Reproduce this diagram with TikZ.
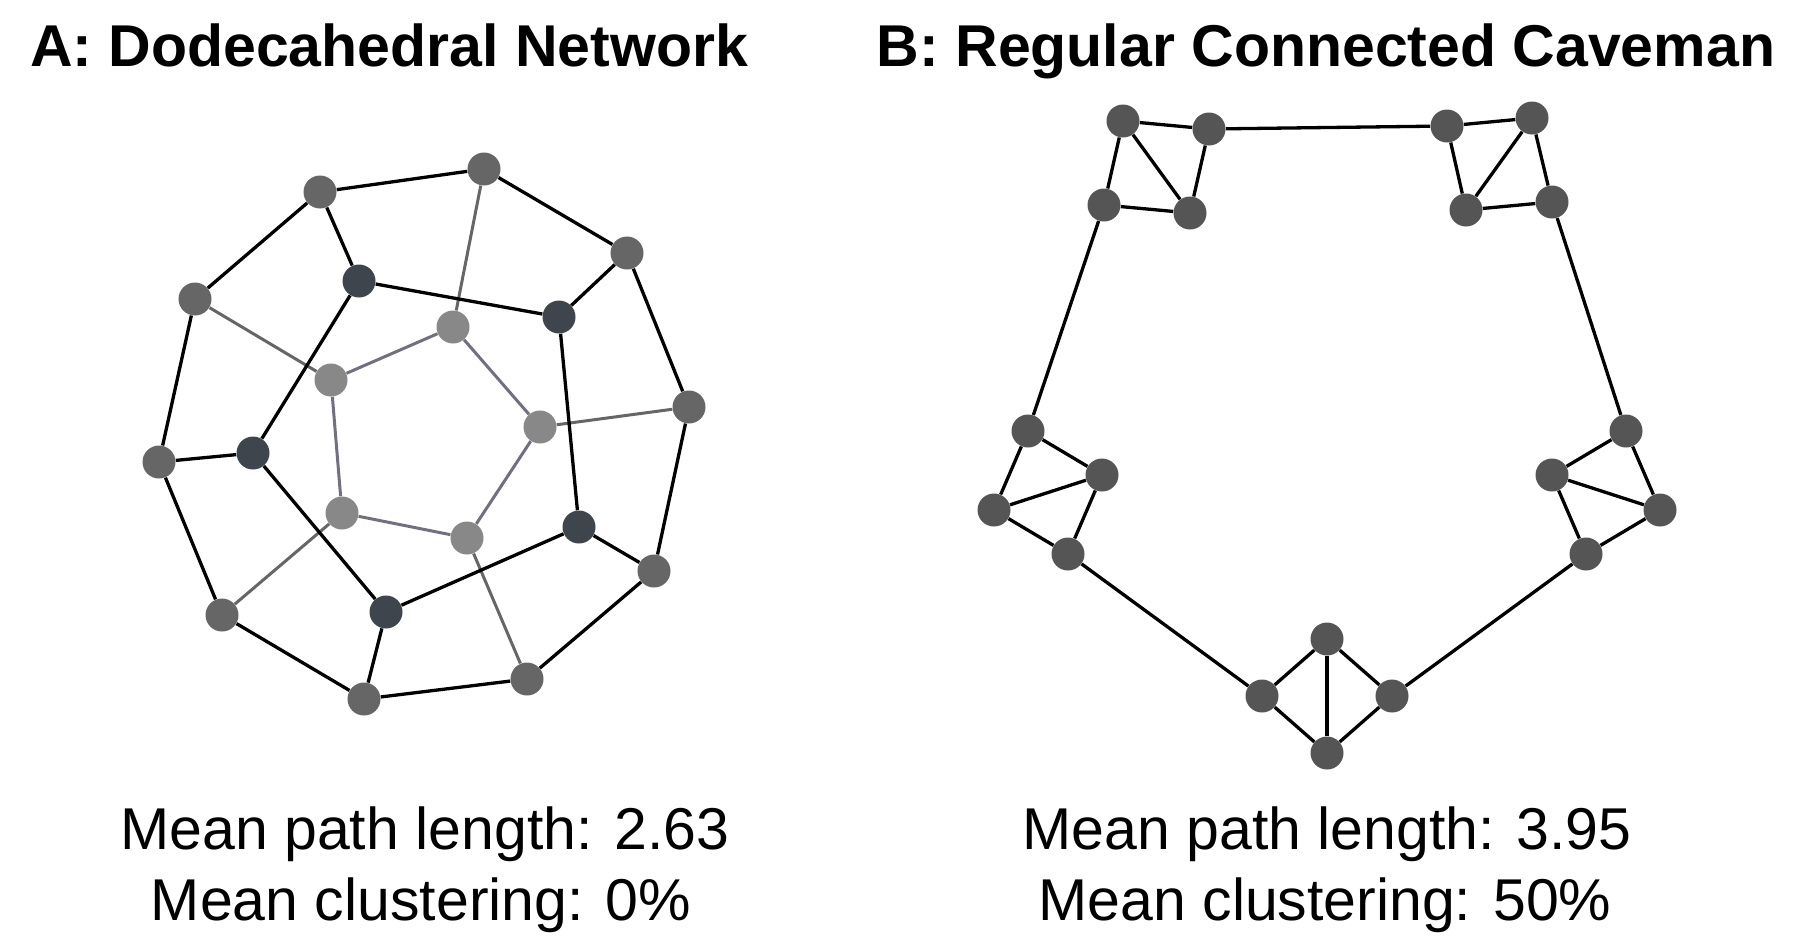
\documentclass[tikz,border=0pt]{standalone}
\usepackage{fontspec}
\setmainfont{Liberation Sans}
\definecolor{outergray}{HTML}{666666}
\definecolor{darknode}{HTML}{3E454C}
\definecolor{innergray}{HTML}{888888}
\definecolor{cavenode}{HTML}{555555}
\definecolor{spokegray}{HTML}{666666}
\definecolor{pentgray}{HTML}{70707E}
\tikzset{
  vtx/.style={circle,inner sep=0pt,minimum size=16.5pt},
  outerv/.style={vtx,fill=outergray},
  darkv/.style={vtx,fill=darknode},
  innerv/.style={vtx,fill=innergray},
  cavev/.style={vtx,fill=cavenode},
  blackedge/.style={draw=black,line width=1.65pt},
  spokeedge/.style={draw=spokegray,line width=1.5pt},
  pentedge/.style={draw=pentgray,line width=1.5pt},
  titletext/.style={anchor=base,inner sep=0pt,font=\fontsize{29.5}{35}\selectfont\bfseries},
  stattext/.style={anchor=base,inner sep=0pt,font=\fontsize{29.5}{35}\selectfont},
}
\begin{document}
\begin{tikzpicture}[x=0.5pt,y=-0.5pt]
\useasboundingbox (0,0) rectangle (1803,944);
% ---------- Panel A ----------
\node[outerv] (o1) at (484,169) {};
\node[outerv] (o2) at (627,253) {};
\node[outerv] (o3) at (689,407) {};
\node[outerv] (o4) at (654,571) {};
\node[outerv] (o5) at (527,679) {};
\node[outerv] (o6) at (364,699) {};
\node[outerv] (o7) at (222,615) {};
\node[outerv] (o8) at (159,462) {};
\node[outerv] (o9) at (195,299) {};
\node[outerv] (o10) at (320,192) {};
\node[darkv] (d1) at (359,281) {};
\node[darkv] (d2) at (559,317) {};
\node[darkv] (d3) at (579,527) {};
\node[darkv] (d4) at (386,612) {};
\node[darkv] (d5) at (253,453) {};
\node[innerv] (i1) at (453,327) {};
\node[innerv] (i2) at (540,427) {};
\node[innerv] (i3) at (467,538) {};
\node[innerv] (i4) at (342,513) {};
\node[innerv] (i5) at (331,380) {};
% inner spokes
\draw[spokeedge] (i1) -- (o1);
\draw[spokeedge] (i2) -- (o3);
\draw[spokeedge] (i3) -- (o5);
\draw[spokeedge] (i4) -- (o7);
\draw[spokeedge] (i5) -- (o9);
% inner pentagon
\draw[pentedge] (i1) -- (i2);
\draw[pentedge] (i2) -- (i3);
\draw[pentedge] (i3) -- (i4);
\draw[pentedge] (i4) -- (i5);
\draw[pentedge] (i5) -- (i1);
% outer ring
\draw[blackedge] (o1) -- (o2);
\draw[blackedge] (o2) -- (o3);
\draw[blackedge] (o3) -- (o4);
\draw[blackedge] (o4) -- (o5);
\draw[blackedge] (o5) -- (o6);
\draw[blackedge] (o6) -- (o7);
\draw[blackedge] (o7) -- (o8);
\draw[blackedge] (o8) -- (o9);
\draw[blackedge] (o9) -- (o10);
\draw[blackedge] (o10) -- (o1);
% dark pentagon
\draw[blackedge] (d1) -- (d2);
\draw[blackedge] (d2) -- (d3);
\draw[blackedge] (d3) -- (d4);
\draw[blackedge] (d4) -- (d5);
\draw[blackedge] (d5) -- (d1);
% dark spokes
\draw[blackedge] (d1) -- (o10);
\draw[blackedge] (d2) -- (o2);
\draw[blackedge] (d3) -- (o4);
\draw[blackedge] (d4) -- (o6);
\draw[blackedge] (d5) -- (o8);
% ---------- Panel B ----------
\node[cavev] (a) at (1123,121) {};
\node[cavev] (b) at (1209,129) {};
\node[cavev] (c) at (1104,205) {};
\node[cavev] (d) at (1190,213) {};
\node[cavev] (e) at (1447,126) {};
\node[cavev] (f) at (1532,118) {};
\node[cavev] (g) at (1466,210) {};
\node[cavev] (h) at (1552,202) {};
\node[cavev] (i) at (1028,431) {};
\node[cavev] (j) at (1102,475) {};
\node[cavev] (k) at (994,510) {};
\node[cavev] (l) at (1068,554) {};
\node[cavev] (m) at (1626,431) {};
\node[cavev] (n) at (1552,475) {};
\node[cavev] (o) at (1660,510) {};
\node[cavev] (p) at (1586,554) {};
\node[cavev] (q) at (1327,639) {};
\node[cavev] (r) at (1262,696) {};
\node[cavev] (s) at (1392,696) {};
\node[cavev] (t) at (1327,753) {};
\foreach \u/\v in {a/b,a/c,a/d,b/d,c/d,
                   e/f,e/g,f/g,f/h,g/h,
                   i/j,i/k,j/k,j/l,k/l,
                   m/n,m/o,n/o,n/p,o/p,
                   q/r,q/s,q/t,r/t,s/t,
                   b/e,c/i,h/m,l/r,p/s}
  \draw[blackedge] (\u) -- (\v);
% ---------- Texts ----------
\node[titletext] (ta) at (389,66) {A: Dodecahedral Network};
\node[titletext] (tb) at (1326,66) {B: Regular Connected Caveman};
\node[stattext] (pa) at (425,849) {Mean path length: 2.63};
\node[stattext] (ca) at (421,920) {Mean clustering: 0\%};
\node[stattext] (pb) at (1327,849) {Mean path length: 3.95};
\node[stattext] (cb) at (1325,920) {Mean clustering: 50\%};
\end{tikzpicture}
\end{document}
